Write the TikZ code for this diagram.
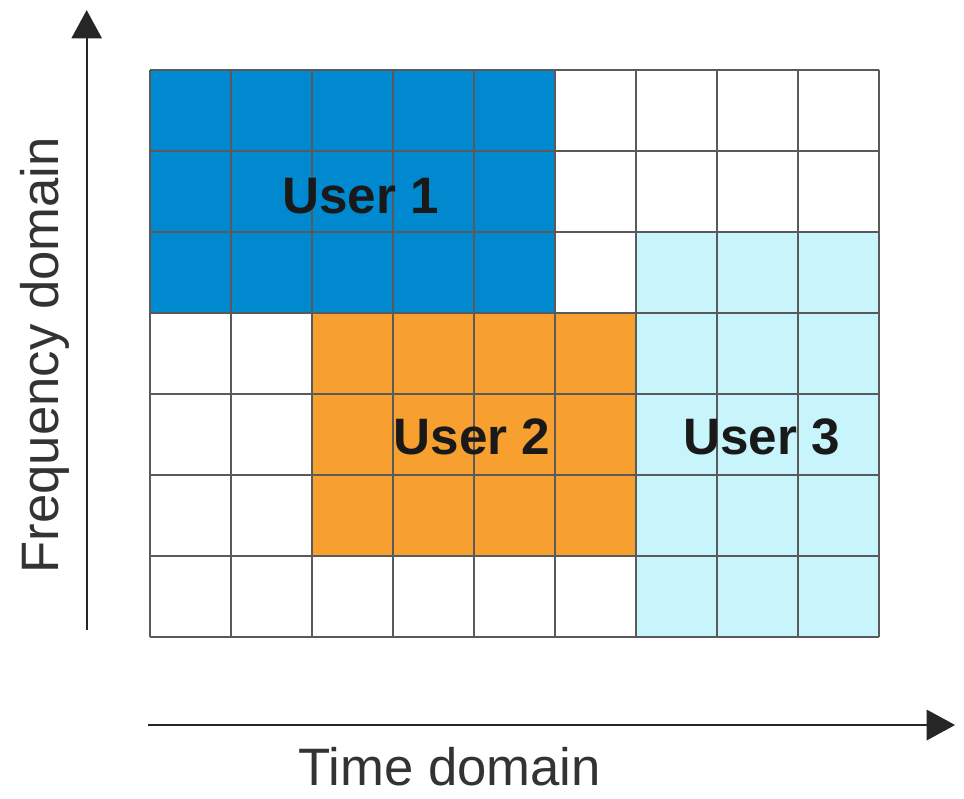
\documentclass[tikz,border=0pt]{standalone}
\usepackage{fontspec}
\setmainfont{Liberation Sans}
\usepackage{tikz}
\usetikzlibrary{arrows.meta}

\definecolor{userblue}{RGB}{0,137,207}
\definecolor{userorange}{RGB}{247,160,48}
\definecolor{usercyan}{RGB}{200,244,252}
\definecolor{gridgray}{RGB}{90,90,90}

\tikzset{
  gridline/.style={draw=gridgray,line width=1.3pt,step=2},
  axis/.style={draw=black!85,line width=1.3pt,-{Triangle[length=0.7cm,width=0.75cm]}},
  userlabel/.style={font=\fontsize{36}{40}\selectfont\bfseries,text=black!90},
  axislabel/.style={font=\fontsize{37}{42}\selectfont,text=black!80}
}

\begin{document}
\begin{tikzpicture}
      \useasboundingbox (-3.70,-3.975) rectangle (20.10,15.73);
      % user blocks
      \fill[userblue] (0,8) rectangle (10,14);
      \fill[userorange] (4,2) rectangle (12,8);
      \fill[usercyan] (12,0) rectangle (18,10);
      \draw[gridline] (0,0) grid (18,14);
      \node[userlabel] (user1) at (5.2,10.9) {User 1};
      \node[userlabel] (user2) at (7.95,4.95) {User 2};
      \node[userlabel] (user3) at (15.1,4.95) {User 3};
      % axes
      \coordinate (freqstart) at (-1.56,0.17);
      \coordinate (freqend) at (-1.56,15.48);
      \coordinate (timestart) at (-0.05,-2.17);
      \coordinate (timeend) at (19.88,-2.17);
      \path[axis] (freqstart) -- (freqend);
      \path[axis] (timestart) -- (timeend);
      \node[axislabel,rotate=90] (freq) at (-2.6,6.96) {Frequency domain};
      \node[axislabel] (time) at (7.4,-3.2) {Time domain};
    \end{tikzpicture}
\end{document}
